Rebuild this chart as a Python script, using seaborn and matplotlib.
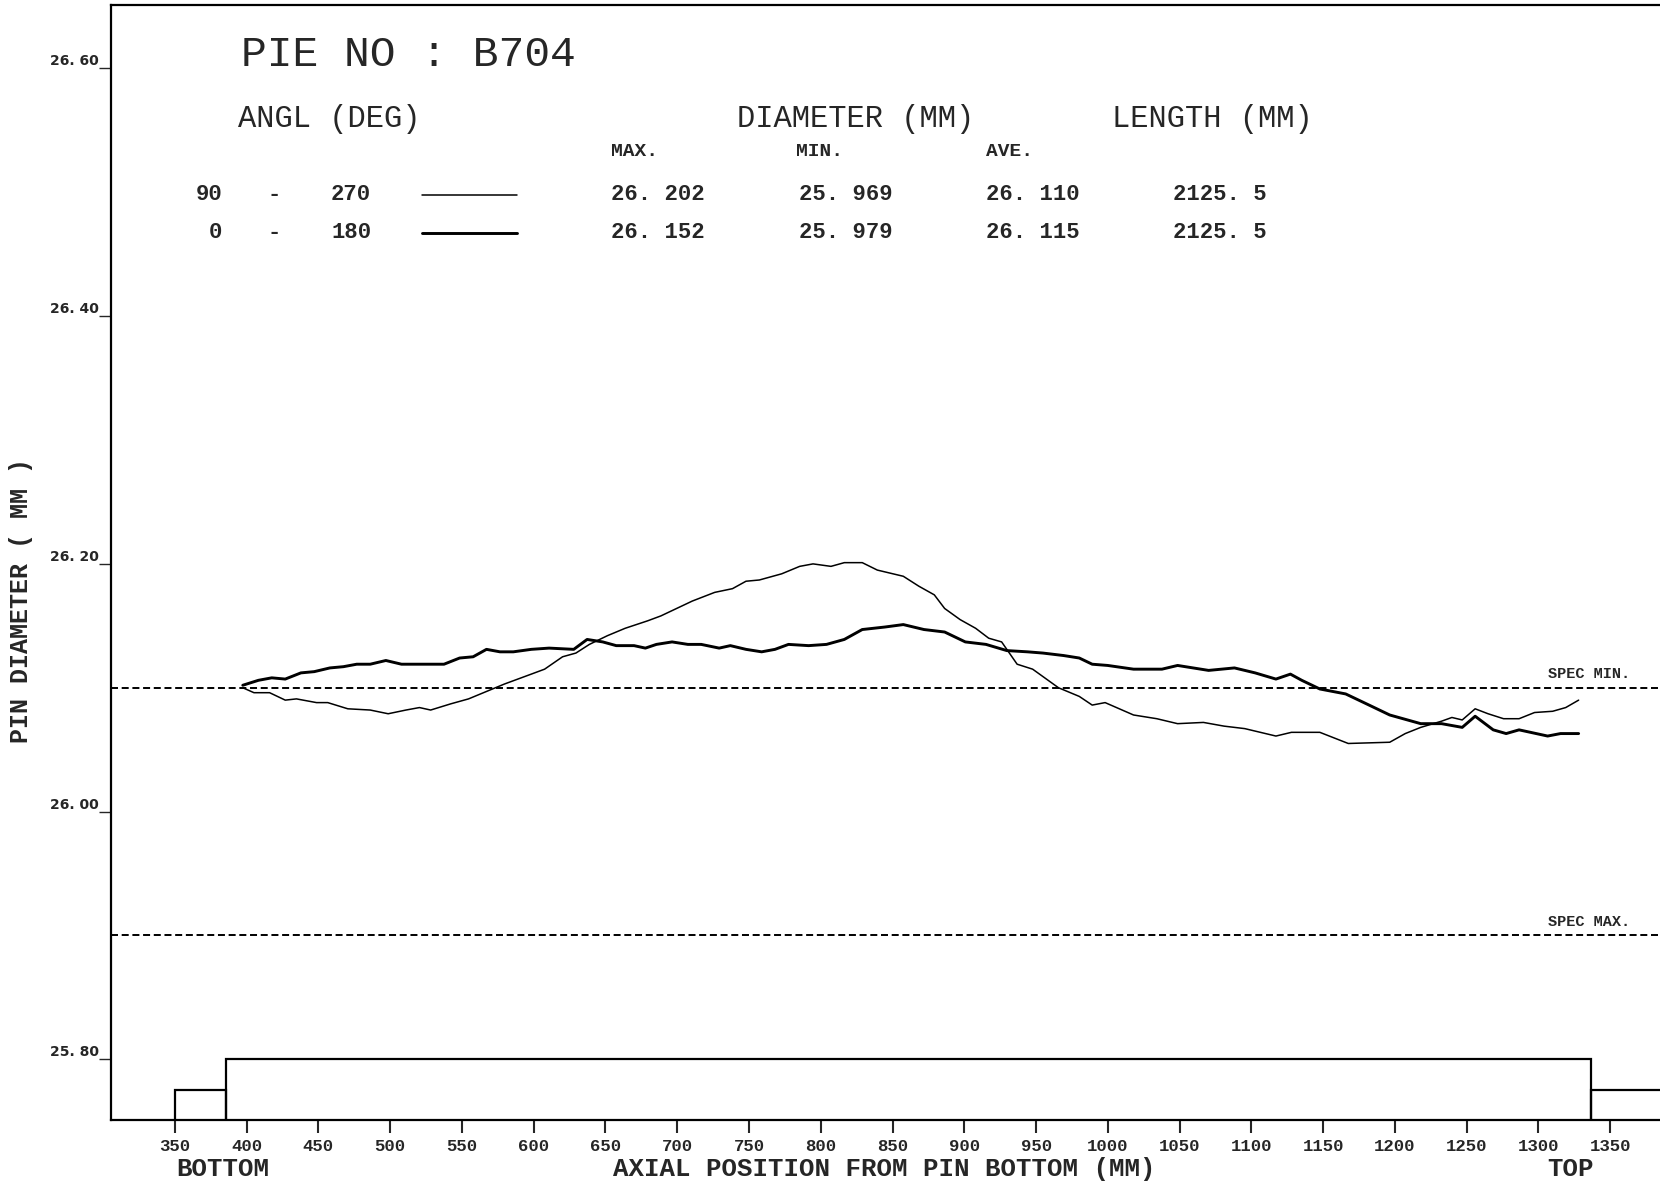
import matplotlib
matplotlib.use("Agg")
import matplotlib.pyplot as plt
import seaborn as sns
import pandas as pd
from matplotlib.lines import Line2D
from matplotlib.patches import Rectangle

# ---------------- data ----------------
pos_90_270 = [397.3, 405.1, 416.0, 426.9, 434.7, 448.7, 456.5, 470.5, 486.1, 498.6,
              511.0, 520.4, 528.2, 542.2, 554.6, 567.1, 579.6, 598.3, 607.6, 620.1,
              629.4, 638.8, 651.3, 663.7, 679.3, 688.6, 710.5, 726.1, 738.5, 747.9,
              757.2, 772.8, 785.3, 794.6, 807.1, 816.4, 828.9, 839.4, 857.5, 868.3,
              879.1, 886.3, 897.1, 907.9, 917.0, 926.0, 936.8, 947.6, 965.6, 980.1,
              989.1, 998.1, 1017.9, 1034.1, 1048.6, 1066.6, 1081.0, 1095.4, 1117.1, 1127.9,
              1147.7, 1167.5, 1196.4, 1207.2, 1218.0, 1232.5, 1239.7, 1246.9, 1255.9, 1264.9,
              1275.7, 1286.5, 1297.3, 1309.9, 1319.0, 1328.0]
dia_90_270 = [26.100, 26.096, 26.096, 26.090, 26.091, 26.088, 26.088, 26.083, 26.082, 26.079,
              26.082, 26.084, 26.082, 26.087, 26.091, 26.097, 26.103, 26.111, 26.115, 26.125,
              26.128, 26.135, 26.142, 26.148, 26.154, 26.158, 26.170, 26.177, 26.180, 26.186,
              26.187, 26.192, 26.198, 26.200, 26.198, 26.201, 26.201, 26.195, 26.190, 26.182,
              26.175, 26.164, 26.155, 26.148, 26.140, 26.137, 26.119, 26.115, 26.100, 26.093,
              26.086, 26.088, 26.078, 26.075, 26.071, 26.072, 26.069, 26.067, 26.061, 26.064,
              26.064, 26.055, 26.056, 26.063, 26.068, 26.073, 26.076, 26.074, 26.083, 26.079,
              26.075, 26.075, 26.080, 26.081, 26.084, 26.090]

pos_0_180 = [397.3, 408.2, 417.5, 426.9, 437.8, 447.1, 458.0, 467.4, 476.7, 486.1,
             497.0, 507.9, 523.5, 537.5, 548.4, 557.8, 567.1, 576.5, 585.8, 598.3,
             610.7, 627.9, 637.2, 648.1, 657.5, 669.9, 677.8, 685.5, 696.4, 707.4,
             716.7, 729.2, 737.0, 747.9, 758.8, 768.1, 777.5, 791.5, 804.0, 816.4,
             828.9, 844.5, 857.5, 871.9, 886.3, 900.7, 915.1, 929.6, 944.0, 954.8,
             969.2, 980.1, 989.1, 999.9, 1017.9, 1037.7, 1048.6, 1070.2, 1088.2, 1102.6,
             1117.1, 1127.2, 1135.1, 1147.7, 1165.7, 1182.0, 1196.4, 1218.0, 1232.5, 1246.9,
             1255.9, 1268.5, 1277.5, 1286.5, 1306.4, 1315.4, 1328.0]
dia_0_180 = [26.102, 26.106, 26.108, 26.107, 26.112, 26.113, 26.116, 26.117, 26.119, 26.119,
             26.122, 26.119, 26.119, 26.119, 26.124, 26.125, 26.131, 26.129, 26.129, 26.131,
             26.132, 26.131, 26.139, 26.137, 26.134, 26.134, 26.132, 26.135, 26.137, 26.135,
             26.135, 26.132, 26.134, 26.131, 26.129, 26.131, 26.135, 26.134, 26.135, 26.139,
             26.147, 26.149, 26.151, 26.147, 26.145, 26.137, 26.135, 26.130, 26.129, 26.128,
             26.126, 26.124, 26.119, 26.118, 26.115, 26.115, 26.118, 26.114, 26.116, 26.112,
             26.107, 26.111, 26.106, 26.099, 26.095, 26.086, 26.078, 26.071, 26.071, 26.068,
             26.077, 26.066, 26.063, 26.066, 26.061, 26.063, 26.063]

angle_from = ["90", "0"]
angle_to = ["270", "180"]
max_vals = ["26. 202", "26. 152"]
min_vals = ["25. 969", "25. 979"]
ave_vals = ["26. 110", "26. 115"]
length_vals = ["2125. 5", "2125. 5"]

spec_min = 26.10
spec_max = 25.90

y_ticks = [25.80, 26.00, 26.20, 26.40, 26.60]
y_tick_labels = ["25. 80", "26. 00", "26. 20", "26. 40", "26. 60"]
x_ticks = [350, 400, 450, 500, 550, 600, 650, 700, 750, 800, 850, 900, 950, 1000,
           1050, 1100, 1150, 1200, 1250, 1300, 1350]

box_edges = [350, 385.5, 1336.7, 1400]
box_heights = [25.775, 25.80, 25.775]

# ---------------- figure ----------------
sns.set_style("white")
plt.rcParams["font.family"] = ["Liberation Mono", "DejaVu Sans"]

W, H = 1660, 1182
fig = plt.figure(figsize=(W / 100, H / 100), dpi=100)
ax = fig.add_axes([111 / W, 1 - 1120 / H, 1 - 111 / W + 0.002, (1120 - 5.3) / H])

df = pd.concat([
    pd.DataFrame({"pos": pos_90_270, "dia": dia_90_270, "angle": "90 - 270"}),
    pd.DataFrame({"pos": pos_0_180, "dia": dia_0_180, "angle": "0 - 180"}),
])
sns.lineplot(data=df[df.angle == "90 - 270"], x="pos", y="dia", color="black",
             linewidth=1.1, estimator=None, sort=False, ax=ax, legend=False)
sns.lineplot(data=df[df.angle == "0 - 180"], x="pos", y="dia", color="black",
             linewidth=2.1, estimator=None, sort=False, ax=ax, legend=False)

ax.set_xlim(305.5, 1387)
ax.set_ylim(25.751, 26.651)

# spec lines
for v in (spec_min, spec_max):
    ax.axhline(v, color="black", linewidth=1.4, dashes=(3.6, 1.9))
ax.annotate("SPEC MIN.", xy=(1306.6, spec_min), xytext=(0, 5), textcoords="offset points",
            fontsize=11, fontweight="bold", va="bottom", ha="left")
ax.annotate("SPEC MAX.", xy=(1306.6, spec_max), xytext=(0, 5), textcoords="offset points",
            fontsize=11, fontweight="bold", va="bottom", ha="left")

# pin outline boxes
for i in range(3):
    ax.add_patch(Rectangle((box_edges[i], 25.70), box_edges[i + 1] - box_edges[i],
                           box_heights[i] - 25.70, fill=False, edgecolor="black",
                           linewidth=1.6, clip_on=True))

# axes styling
for side in ("left", "bottom", "top"):
    ax.spines[side].set_visible(True)
    ax.spines[side].set_color("black")
    ax.spines[side].set_linewidth(1.6)
ax.spines["right"].set_visible(False)

ax.set_yticks(y_ticks)
ax.set_yticklabels(y_tick_labels, fontfamily="DejaVu Sans", fontweight="bold", fontsize=10)
ax.tick_params(axis="y", direction="out", length=9, width=1.0, pad=0, left=True)
for lab in ax.get_yticklabels():
    lab.set_verticalalignment("bottom")

ax.set_xticks(x_ticks)
ax.set_xticklabels([str(v) for v in x_ticks], fontweight="bold", fontsize=12.5)
ax.tick_params(axis="x", direction="out", length=9, width=1.5, pad=5, bottom=True)
ax.set_xlabel("")
ax.set_ylabel("")


def ftxt(x, y, s, **kw):
    kw.setdefault("va", "center")
    kw.setdefault("ha", "left")
    fig.text(x / W, 1 - y / H, s, **kw)


# axis titles
ftxt(884, 1169, "AXIAL POSITION FROM PIN BOTTOM (MM)", ha="center", fontsize=18.5, fontweight="bold")
ftxt(176, 1169, "BOTTOM", fontsize=18.5, fontweight="bold")
ftxt(1570, 1169, "TOP", ha="center", fontsize=18.5, fontweight="bold")
ftxt(21, 601, "PIN DIAMETER ( MM )", ha="center", rotation=90, fontsize=18, fontweight="bold")

# header block
ftxt(241, 55, "PIE NO : B704", fontsize=31)
ftxt(238, 118.6, "ANGL (DEG)", fontsize=22)
ftxt(737, 118.6, "DIAMETER (MM)", fontsize=22)
ftxt(1112, 118.6, "LENGTH (MM)", fontsize=22)
ftxt(611, 151.4, "MAX.", fontsize=14, fontweight="bold")
ftxt(796, 151.4, "MIN.", fontsize=14, fontweight="bold")
ftxt(986, 151.4, "AVE.", fontsize=14, fontweight="bold")

row_y = [194.8, 232.9]
line_w = [1.1, 2.1]
for i in range(2):
    y = row_y[i]
    ftxt(222, y, angle_from[i], ha="right", fontsize=16, fontweight="bold")
    ftxt(274, y, "-", ha="center", fontsize=16, fontweight="bold")
    ftxt(331, y, angle_to[i], fontsize=16, fontweight="bold")
    fig.add_artist(Line2D([422 / W, 517 / W], [1 - y / H, 1 - y / H],
                          transform=fig.transFigure, color="black", linewidth=line_w[i]))
    ftxt(611, y, max_vals[i], fontsize=16, fontweight="bold")
    ftxt(799, y, min_vals[i], fontsize=16, fontweight="bold")
    ftxt(986, y, ave_vals[i], fontsize=16, fontweight="bold")
    ftxt(1173, y, length_vals[i], fontsize=16, fontweight="bold")

fig.savefig("out.png", dpi=100, facecolor="white")
